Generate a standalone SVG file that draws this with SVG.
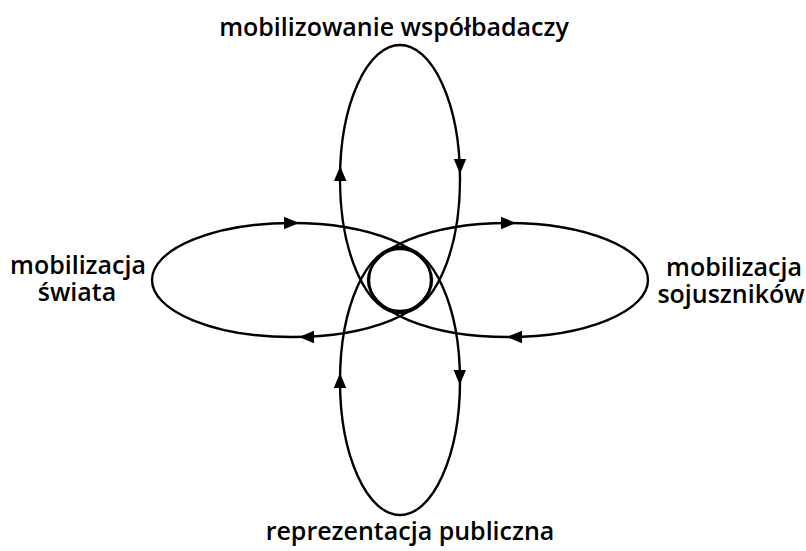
<svg xmlns="http://www.w3.org/2000/svg" xmlns:xlink="http://www.w3.org/1999/xlink" width="806" height="551" viewBox="0 0 806 551">
<defs>
<style>
.loop{fill:none;stroke:#000;stroke-width:2.4}
.lbl{font-family:"Open Sans","Noto Sans",sans-serif;font-size:25px;font-weight:600;fill:#000;text-anchor:middle}
</style>
<path id="ah" d="M0,0 L-15,-6.2 L-15,6.2 Z" fill="#000"/>
</defs>
<rect width="806" height="551" fill="#fff"/>
<g id="connectors">
<ellipse id="loop-top" class="loop" cx="400" cy="179" rx="60" ry="134"/>
<ellipse id="loop-bottom" class="loop" cx="400" cy="381" rx="60" ry="134"/>
<ellipse id="loop-left" class="loop" cx="292" cy="280" rx="140" ry="57"/>
<ellipse id="loop-right" class="loop" cx="508" cy="280" rx="140" ry="57"/>
<circle id="center-circle" class="loop" cx="400" cy="280" r="31"/>
<use xlink:href="#ah" transform="translate(340.2,166) rotate(-90)"/>
<use xlink:href="#ah" transform="translate(460,174) rotate(90)"/>
<use xlink:href="#ah" transform="translate(340,373) rotate(-90)"/>
<use xlink:href="#ah" transform="translate(459.8,385) rotate(90)"/>
<use xlink:href="#ah" transform="translate(299,223) rotate(0)"/>
<use xlink:href="#ah" transform="translate(299,337) rotate(180)"/>
<use xlink:href="#ah" transform="translate(516,223) rotate(0)"/>
<use xlink:href="#ah" transform="translate(507,337) rotate(180)"/>
</g>
<g id="node-top"><text class="lbl" x="394" y="36">mobilizowanie współbadaczy</text></g>
<g id="node-bottom"><text class="lbl" x="410" y="540">reprezentacja publiczna</text></g>
<g id="node-left"><text class="lbl" x="78" y="274">mobilizacja</text><text class="lbl" x="77" y="301">świata</text></g>
<g id="node-right"><text class="lbl" x="734" y="276">mobilizacja</text><text class="lbl" x="731" y="303">sojuszników</text></g>
</svg>
